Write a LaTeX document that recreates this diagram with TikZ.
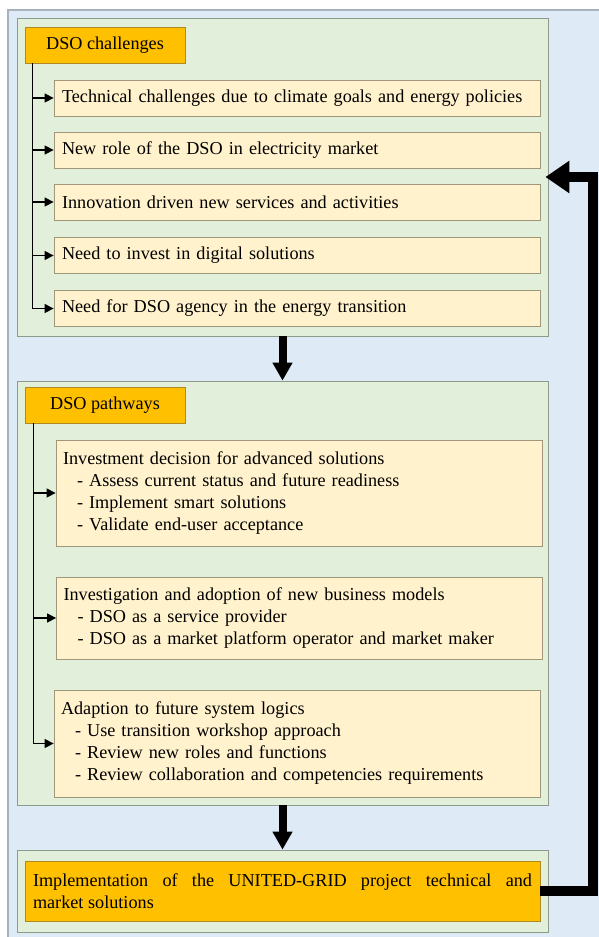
\documentclass[tikz,border=0pt]{standalone}
\usepackage{fontspec}
\setmainfont{Liberation Serif}
\usetikzlibrary{arrows.meta}
\definecolor{outerbg}{HTML}{DEEBF7}
\definecolor{outerln}{HTML}{A6B2BE}
\definecolor{panelbg}{HTML}{E2EFDA}
\definecolor{panelln}{HTML}{8E9A8A}
\definecolor{itembg}{HTML}{FFF2CC}
\definecolor{itemln}{HTML}{A0967A}
\definecolor{headbg}{HTML}{FFC000}
\definecolor{headln}{HTML}{B08A20}
\begin{document}
\begin{tikzpicture}[x=1pt,y=-1pt,
  font=\fontsize{18.2}{22}\selectfont,
  panel/.style={draw=panelln,fill=panelbg,line width=0.8pt,minimum width=531pt,inner sep=0pt},
  headbox/.style={draw=headln,fill=headbg,line width=0.8pt,minimum width=160pt,minimum height=36pt,inner sep=0pt},
  itembox/.style={draw=itemln,fill=itembg,line width=0.8pt,text width=470pt,inner xsep=8pt,inner ysep=0pt,minimum height=36pt,align=left},
  pathbox/.style={draw=itemln,fill=itembg,line width=0.8pt,text width=472pt,inner xsep=7pt,inner ysep=0pt,align=left},
  branch/.style={line width=1.4pt,-{Triangle[length=9pt,width=9pt]}},
  bigdown/.style={line width=8pt,-{Triangle[length=18pt,width=19pt]}},
  feedback/.style={line width=10pt,-{Triangle[length=24pt,width=31pt]}},
]
\useasboundingbox (0,0) rectangle (599,937);
\fill[white] (0,0) rectangle (599,937);
\draw[draw=outerln,fill=outerbg,line width=1.2pt] (8,10) rectangle (615,950);

% panels
\node[panel,minimum height=318pt] (p1) at (282.5,177) {};
\node[panel,minimum height=424pt] (p2) at (282.5,593) {};
\node[panel,minimum height=82pt] (p3) at (282.5,891) {};

% challenges
\node[headbox] (h1) at (105,45) {DSO challenges};
\node[itembox] (i1) at (297,98) {Technical challenges due to climate goals and energy policies};
\node[itembox] (i2) at (297,150) {New role of the DSO in electricity market};
\node[itembox] (i3) at (297,202) {Innovation driven new services and activities};
\node[itembox] (i4) at (297,255.5) {Need to invest in digital solutions};
\node[itembox] (i5) at (297,308.5) {Need for DSO agency in the energy transition};
\foreach \i in {i1,i2,i3,i4,i5}
  \draw[branch] ([xshift=8pt]h1.south west) |- (\i.west);

% pathways
\node[headbox] (h2) at (105,405) {DSO pathways};
\node[pathbox,minimum height=106pt] (b1) at (299,493) {Investment decision for advanced solutions\\
  \hspace*{14pt}- Assess current status and future readiness\\
  \hspace*{14pt}- Implement smart solutions\\
  \hspace*{14pt}- Validate end-user acceptance};
\node[pathbox,minimum height=82pt] (b2) at (299.5,618) {Investigation and adoption of new business models\\
  \hspace*{14pt}- DSO as a service provider\\
  \hspace*{14pt}- DSO as a market platform operator and market maker};
\node[pathbox,minimum height=107pt] (b3) at (297,743.5) {Adaption to future system logics\\
  \hspace*{14pt}- Use transition workshop approach\\
  \hspace*{14pt}- Review new roles and functions\\
  \hspace*{14pt}- Review collaboration and competencies requirements};
\foreach \i in {b1,b2,b3}
  \draw[branch] ([xshift=9pt]h2.south west) |- (\i.west);

% implementation
\node[draw=headln,fill=headbg,line width=0.8pt,text width=499pt,inner xsep=8pt,inner ysep=0pt,minimum height=60pt,align=justify] (fin) at (282.5,891)
  {\hyphenpenalty=10000\exhyphenpenalty=10000 Implementation of the \mbox{UNITED-GRID} project technical and\linebreak market solutions};

% arrows
\draw[bigdown] (p1.south) -- (p2.north);
\draw[bigdown] (p2.south) -- (p3.north);
\coordinate (up) at (593,177);
\draw[feedback,shorten >=-3pt] (fin.east) -| (up) -- (up -| p1.east);
\end{tikzpicture}
\end{document}
